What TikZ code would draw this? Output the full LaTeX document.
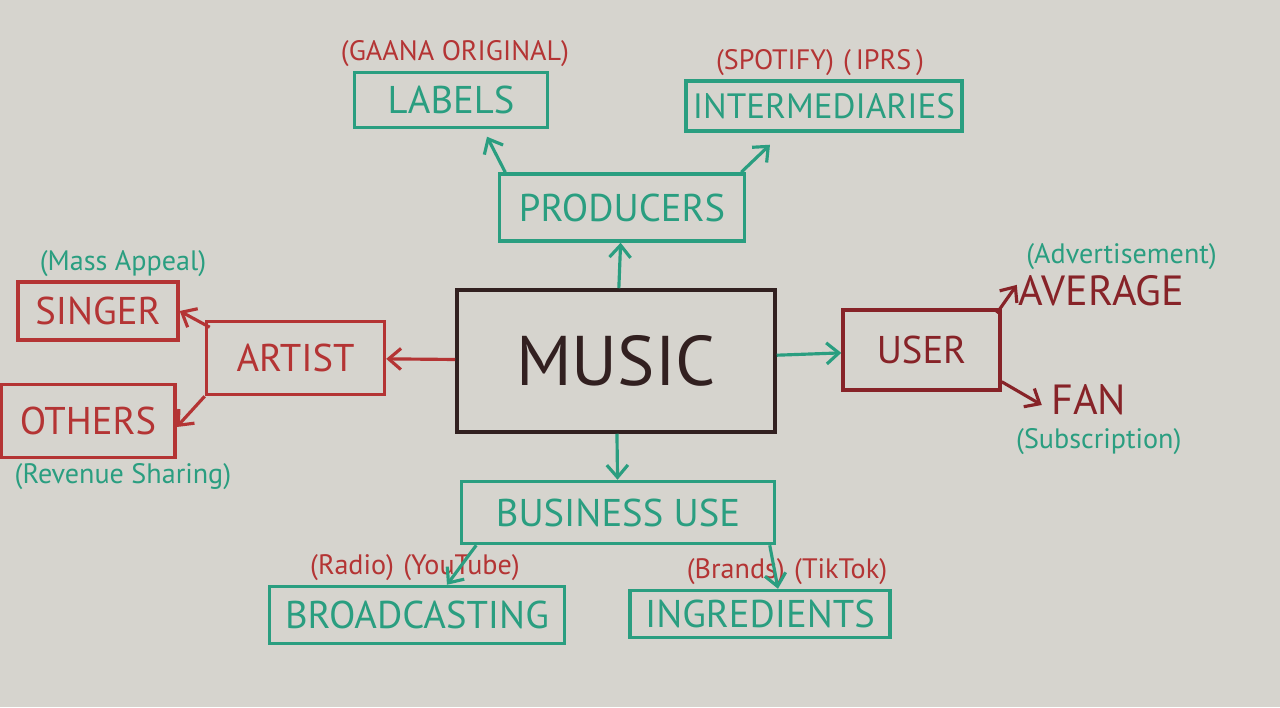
\documentclass[tikz,border=0pt]{standalone}
\usepackage{fontspec}
\setmainfont{PT Sans}
\usetikzlibrary{positioning, arrows.meta}
\definecolor{boardgray}{RGB}{214, 212, 206}
\definecolor{markgreen}{RGB}{42, 158, 128}
\definecolor{markred}{RGB}{180, 52, 52}
\definecolor{darkred}{RGB}{135, 35, 40}
\definecolor{markblack}{RGB}{50, 32, 32}

\begin{document}
\begin{tikzpicture}[
  every node/.style={font=\fontsize{22}{22}\selectfont},
  box/.style={
    rectangle, draw=#1, text=#1,
    line width=2pt, inner sep=2pt
  },
  note/.style={font=\fontsize{16}{16}\selectfont, text=#1, inner sep=1pt},
  arrow/.style={-{Straight Barb[length=7pt, width=12pt]}, line width=1.8pt, #1}
]

% ── Whiteboard ────────────────────────────────────────────────────────────────
\fill[boardgray] (-12.32,-6.92) rectangle (13.28,7.22);
\useasboundingbox (-12.32,-6.92) rectangle (13.28,7.22);

% ── Centre ────────────────────────────────────────────────────────────────────
\node[box=markblack, minimum width=6.36cm, minimum height=2.84cm,
      font=\fontsize{40}{40}\selectfont]
  (music) at (0,0) {MUSIC};

% ── Producers branch ──────────────────────────────────────────────────────────
\node[box=markgreen, minimum width=4.9cm, minimum height=1.34cm,
      above=0.91cm of music, xshift=0.12cm]
  (producers) {PRODUCERS};

\node[box=markgreen, minimum width=3.86cm, minimum height=1.1cm,
      above=0.86cm of producers, xshift=-3.42cm]
  (labels) {LABELS};

\node[box=markgreen, minimum width=5.52cm, minimum height=1.0cm,
      font=\fontsize{20}{20}\selectfont,
      above=0.79cm of producers, xshift=4.04cm]
  (intermed) {INTERMEDIARIES};

\node[note=markred, above=1pt of labels, xshift=0.08cm]
  (gaana) {(GAANA ORIGINAL)};
\node[note=markred, above=1pt of intermed, xshift=-0.08cm]
  (spotify) {(SPOTIFY)\,\,(\,IPRS\,)};

\draw[arrow=markgreen] (music) -- (producers);
\draw[arrow=markgreen] ([xshift=0.15cm]producers.north west)
  -- ([xshift=0.72cm, yshift=-0.15cm]labels.south);
\draw[arrow=markgreen] ([xshift=-0.1cm]producers.north east)
  -- ([xshift=-1.08cm, yshift=-0.24cm]intermed.south);

% ── Artist branch ─────────────────────────────────────────────────────────────
\node[box=markred, minimum width=3.56cm, minimum height=1.46cm,
      left=1.38cm of music, yshift=0.06cm]
  (artist) {ARTIST};

\node[box=markred, minimum width=3.2cm, minimum height=1.16cm,
      left=0.5cm of artist, yshift=0.94cm]
  (singer) {SINGER};

\node[box=markred, minimum width=3.48cm, minimum height=1.46cm,
      left=0.56cm of artist, yshift=-1.26cm]
  (others) {OTHERS};

\node[note=markgreen, above=1pt of singer, xshift=0.5cm]
  (massapp) {(Mass Appeal)};
\node[note=markgreen, below=1pt of others, xshift=0.7cm]
  (revenue) {(Revenue Sharing)};

\draw[arrow=markred] (music) -- (artist);
\draw[arrow=markred] ([xshift=0.1cm, yshift=-0.15cm]artist.north west) -- (singer.east);
\draw[arrow=markred] (artist.south west) -- ([yshift=-0.12cm]others.east);

% ── User branch ───────────────────────────────────────────────────────────────
\node[box=darkred, minimum width=3.14cm, minimum height=1.6cm,
      right=1.29cm of music, yshift=0.22cm]
  (user) {USER};

\node[text=darkred, inner sep=1pt, font=\fontsize{24}{24}\selectfont,
      above right=0.0cm and 0.3cm of user]
  (average) {AVERAGE};
\node[text=darkred, inner sep=1pt, font=\fontsize{24}{24}\selectfont,
      right=0.95cm of user, yshift=-1.0cm]
  (fan) {FAN};

\node[note=markgreen, above=1pt of average, xshift=0.4cm]
  (advert) {(Advertisement)};
\node[note=markgreen, below=5pt of fan, xshift=0.2cm]
  (subscr) {(Subscription)};

\draw[arrow=markgreen] (music) -- (user);
\draw[arrow=darkred] ([xshift=-0.1cm, yshift=-0.1cm]user.north east)
  -- ([yshift=0.12cm]average.west);
\draw[arrow=darkred] ([yshift=0.2cm]user.south east)
  -- ([xshift=-0.15cm, yshift=-0.1cm]fan.west);

% ── Business branch ───────────────────────────────────────────────────────────
\node[box=markgreen, minimum width=6.26cm, minimum height=1.24cm,
      below=0.92cm of music, xshift=0.04cm]
  (business) {BUSINESS USE};

\node[box=markgreen, minimum width=5.9cm, minimum height=1.14cm,
      below=0.79cm of business, xshift=-4.02cm]
  (broadcast) {BROADCASTING};

\node[box=markgreen, minimum width=5.2cm, minimum height=0.94cm,
      below=0.87cm of business, xshift=2.84cm]
  (ingred) {INGREDIENTS};

\node[note=markred, above=1pt of broadcast, xshift=-0.04cm]
  (radio) {(Radio)\,\,(YouTube)};
\node[note=markred, above=1pt of ingred, xshift=0.54cm]
  (brands) {(Brands)\,\,(TikTok)};

\draw[arrow=markgreen] (music) -- (business);
\draw[arrow=markgreen] ([xshift=0.33cm]business.south west)
  -- ([xshift=0.6cm]broadcast.north);
\draw[arrow=markgreen] ([xshift=-0.13cm]business.south east)
  -- ([xshift=0.36cm]ingred.north);

\end{tikzpicture}
\end{document}
